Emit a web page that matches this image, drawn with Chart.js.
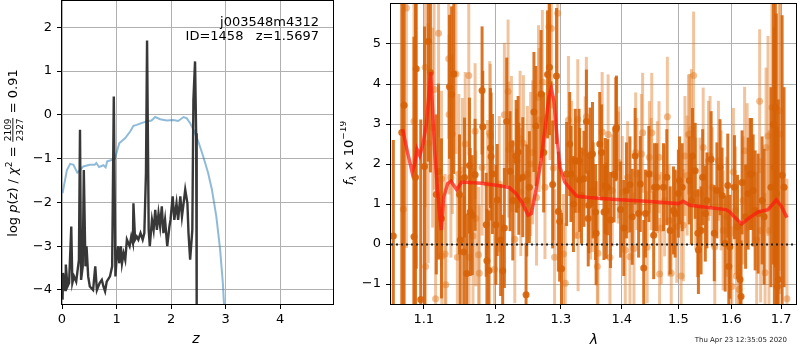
<!DOCTYPE html>
<html><head><meta charset="utf-8">
<script src="https://cdn.jsdelivr.net/npm/chart.js@4"></script>
<style>
html,body{margin:0;padding:0;background:#fff;}
#wrap{position:relative;width:800px;height:350px;overflow:hidden;background:#fff;}
canvas{position:absolute;top:0;}
</style></head><body>
<div id="wrap">
<canvas id="c1" width="340" height="350" style="left:0"></canvas>
<canvas id="c2" width="460" height="350" style="left:340px"></canvas>
</div>
<script>
// ---------- Left panel data: log p(z) ----------
const zTicks = [0, 1, 2, 3, 4];
const logpTicks = [-4, -3, -2, -1, 0, 1, 2];
const zBlue = [0.01,0.09,0.15,0.21,0.28,0.32,0.39,0.51,0.60,0.63,0.68,0.76,0.80,0.83,0.91,0.97,1.00,1.05,1.16,1.25,1.31,1.37,1.43,1.55,1.64,1.71,1.80,1.92,2.04,2.13,2.23,2.29,2.35,2.41,2.50,2.59,2.68,2.75,2.83,2.90,2.95,2.97,3.10];
const logpBlue = [-1.79,-1.26,-1.12,-1.14,-1.32,-1.27,-1.18,-1.14,-1.14,-1.10,-1.19,-1.15,-1.20,-1.06,-1.03,-1.00,-0.87,-0.65,-0.53,-0.38,-0.25,-0.23,-0.20,-0.15,-0.13,-0.05,-0.10,-0.13,-0.12,-0.14,-0.05,-0.08,-0.19,-0.34,-0.61,-0.95,-1.33,-1.71,-2.32,-3.08,-3.84,-4.30,-6.50];
const zDark = [0.01,0.02,0.06,0.07,0.10,0.13,0.17,0.19,0.22,0.26,0.28,0.31,0.33,0.35,0.38,0.40,0.43,0.45,0.48,0.51,0.57,0.61,0.64,0.69,0.73,0.76,0.79,0.82,0.88,0.92,0.95,0.98,1.00,1.03,1.05,1.08,1.10,1.13,1.16,1.19,1.24,1.27,1.30,1.31,1.34,1.37,1.40,1.44,1.48,1.51,1.54,1.56,1.59,1.61,1.65,1.68,1.71,1.74,1.77,1.80,1.83,1.86,1.89,1.93,1.97,1.99,2.03,2.06,2.10,2.13,2.17,2.20,2.23,2.26,2.30,2.32,2.35,2.39,2.41,2.44,2.46,2.47,2.50];
const logpDark = [-4.22,-3.61,-4.00,-3.42,-3.92,-3.84,-2.55,-3.84,-3.69,-3.81,-3.61,-3.31,-0.34,-3.77,-3.46,-1.26,-3.46,-3.00,-3.69,-3.92,-4.00,-3.46,-4.00,-3.84,-3.77,-3.92,-4.03,-3.81,-3.69,-3.46,0.42,-3.69,-3.31,-3.00,-3.39,-3.00,-3.39,-3.16,-3.31,-2.85,-3.00,-2.78,-2.93,-2.02,-2.85,-2.78,-2.85,-2.70,-2.85,-2.70,-1.33,1.70,-2.63,-3.00,-2.40,-2.63,-2.17,-2.63,-2.25,-2.55,-2.09,-2.70,-2.40,-3.00,-2.55,-2.40,-1.86,-2.40,-2.02,-2.40,-1.86,-2.32,-2.02,-1.71,-2.02,-2.70,-3.31,-2.63,0.34,1.22,-0.42,-4.30,-8.00];

// ---------- Right panel data: spectrum ----------
const lamTicks = [1.1, 1.2, 1.3, 1.4, 1.5, 1.6, 1.7];
const fluxTicks = [-1, 0, 1, 2, 3, 4, 5];
const zeroLevel = [0];
const lamDark = [1.060,1.071,1.074,1.087,1.089,1.090,1.096,1.101,1.106,1.109,1.117,1.120,1.124,1.135,1.138,1.141,1.149,1.150,1.155,1.156,1.159,1.163,1.164,1.167,1.171,1.181,1.182,1.187,1.188,1.191,1.193,1.194,1.196,1.201,1.203,1.208,1.211,1.2135,1.217,1.222,1.226,1.231,1.232,1.234,1.235,1.241,1.246,1.247,1.251,1.258,1.261,1.269,1.273,1.279,1.282,1.287,1.293,1.296,1.298,1.301,1.309,1.314,1.316,1.320,1.323,1.329,1.330,1.333,1.337,1.341,1.344,1.345,1.347,1.351,1.352,1.356,1.357,1.363,1.366,1.370,1.372,1.374,1.376,1.381,1.387,1.390,1.391,1.398,1.4035,1.408,1.414,1.418,1.423,1.429,1.432,1.438,1.441,1.447,1.4555,1.457,1.461,1.473,1.479,1.485,1.491,1.494,1.500,1.502,1.507,1.520,1.524,1.526,1.531,1.536,1.537,1.542,1.545,1.550,1.553,1.561,1.567,1.572,1.578,1.582,1.588,1.593,1.595,1.597,1.606,1.612,1.617,1.619,1.621,1.628,1.633,1.637,1.640,1.643,1.647,1.653,1.661,1.665,1.679,1.684,1.686,1.688,1.690,1.692,1.694,1.702,1.706];
const fluxDark = [0.2,2.79,3.47,0.18,1.67,4.38,-1.39,1.94,5.06,4.29,1.24,1.81,0.64,3.93,3.74,4.25,1.24,0.1,-0.2,1.66,-0.74,1.96,0.8,0.72,1.73,3.84,2.93,0.48,-0.42,-0.66,2.4,2.19,1.75,0.48,1.1,0.1,-0.67,0.4,3.06,1.82,1.09,2.2,2.08,2.3,1.63,1.67,-1.27,1.09,1.42,3.3,2.95,3.75,2.29,4.24,4.42,1.49,4.2,0.81,0.56,-0.62,1.75,2.5,1.75,1.0,2.08,2.08,1.6,1.21,1.63,3.06,0.64,0.97,2.21,2.25,1.34,0.8,0.27,2.5,2.29,0.8,1.45,0.83,1.42,0.6,1.74,2.87,2.91,0.86,0.4,1.34,1.49,0.68,2.2,0.76,1.5,-0.6,0.76,1.75,0.22,1.42,1.42,1.42,1.67,0.34,0.84,0.76,1.26,1.59,1.42,1.59,1.09,2.2,1.83,0.27,-0.15,0.34,1.67,0.76,1.09,2.12,0.27,1.34,1.92,1.21,0.01,1.46,-0.56,-0.07,1.42,0.43,-0.89,-1.31,1.54,0.68,1.26,1.75,1.75,1.34,0.84,0.76,1.09,0.68,1.42,2.99,1.92,3.41,1.26,-1.06,-0.89,1.72,1.42];
const errDark = [2.4,6,6,5,5,5,4.5,3.5,3,2.5,2,2.2,2,1.8,2.2,2.5,1.5,1.6,1.4,1.5,1.5,1.7,1.6,1.5,1.4,1.6,1.4,1.3,1.3,1.5,1.5,1.6,1.5,1.5,1.4,1.4,1.4,1.5,1.6,1.5,1.5,1.4,1.3,1.4,1.4,1.5,1.3,1.4,1.4,1.5,1.5,1.6,1.5,1.6,1.7,1.6,1.7,1.5,1.5,1.4,1.3,1.3,1.2,1.2,1.3,1.3,1.3,1.2,1.2,1.3,1.2,1.2,1.2,1.3,1.2,1.2,1.3,1.3,1.2,1.2,1.2,1.2,1.2,1.2,1.2,1.3,1.3,1.2,1.2,1.2,1.2,1.2,1.2,1.1,1.2,1.2,1.1,1.2,1.1,1.1,1.1,1.1,1.2,1.1,1.1,1.1,1.1,1.1,1.1,1.1,1.1,1.2,1.2,1.1,1.1,1.1,1.2,1.2,1.2,1.2,1.2,1.2,1.2,1.2,1.2,1.3,1.3,1.3,1.3,1.3,1.4,1.4,1.3,1.3,1.4,1.4,1.4,1.4,1.5,1.5,1.6,1.7,2.5,3.5,3.5,4,4.5,4,4.5,4,2.5];
const lamLight = [1.073,1.077,1.087,1.102,1.1025,1.106,1.112,1.114,1.116,1.120,1.124,1.1245,1.129,1.130,1.134,1.1345,1.137,1.139,1.144,1.146,1.148,1.153,1.157,1.162,1.1625,1.168,1.171,1.172,1.176,1.177,1.181,1.189,1.192,1.193,1.199,1.206,1.2135,1.219,1.220,1.224,1.229,1.237,1.238,1.242,1.248,1.253,1.256,1.262,1.265,1.266,1.271,1.275,1.281,1.283,1.285,1.288,1.290,1.295,1.304,1.307,1.312,1.317,1.324,1.327,1.3275,1.339,1.341,1.348,1.351,1.359,1.360,1.367,1.377,1.380,1.384,1.394,1.395,1.401,1.406,1.410,1.414,1.421,1.424,1.426,1.434,1.436,1.444,1.448,1.451,1.452,1.462,1.465,1.466,1.469,1.475,1.480,1.483,1.487,1.497,1.505,1.509,1.512,1.516,1.5185,1.521,1.524,1.528,1.532,1.540,1.546,1.556,1.559,1.563,1.568,1.575,1.580,1.584,1.591,1.601,1.604,1.608,1.610,1.615,1.623,1.626,1.631,1.650,1.656,1.658,1.667,1.669,1.673,1.675,1.681,1.696,1.698,1.712];
const fluxLight = [0.87,5.9,3.07,4.42,-0.56,2.52,2.91,3.86,-1.37,5.27,1.63,-0.3,-0.25,-1.02,4.63,3.24,1.66,2.75,4.25,-0.33,1.75,1.85,2.5,4.21,-0.33,0.2,2.82,0.64,-0.27,-0.73,1.91,1.5,2.77,2.7,-0.64,1.5,3.23,3.81,2.36,2.5,0.12,2.63,1.3,2.52,1.75,2.0,2.29,1.16,3.67,3.1,4.05,1.42,5.43,4.0,5.39,1.9,-0.33,5.77,-0.25,-0.98,3.1,2.08,1.63,3.12,0.22,2.29,3.18,1.01,1.2,-0.56,-0.23,2.8,2.74,-0.34,1.34,1.91,2.04,1.3,-0.15,1.67,-0.32,-0.11,2.29,1.75,2.25,2.78,-0.08,2.17,1.75,2.78,1.67,2.17,-0.75,0.4,1.09,3.18,0.59,-0.73,0.43,-0.8,0.47,2.2,1.71,2.74,2.75,2.87,4.21,1.26,1.26,2.41,2.08,2.2,1.42,-0.07,2.08,1.34,0.34,0.68,-1.06,1.8,0.84,-0.8,-1.14,1.09,2.33,1.92,0.1,3.57,0.34,-0.72,2.41,2.7,0.34,3.41,3.33,2.75,-1.37];
const errLight = [6,6,5,3.5,3,3,2.5,2.5,2.5,2.6,2.2,2,2,2,2,2,2,2,2,2,2,1.8,1.8,2,1.8,1.7,1.7,1.7,1.7,1.7,1.7,1.6,1.8,1.8,1.7,1.7,1.8,1.8,1.7,1.7,1.6,1.7,1.6,1.7,1.7,1.8,1.8,1.7,1.8,1.8,1.8,1.8,2,1.9,2,1.8,1.7,2,1.5,1.5,1.6,1.5,1.5,1.5,1.4,1.4,1.5,1.4,1.4,1.4,1.4,1.5,1.5,1.4,1.4,1.4,1.4,1.4,1.4,1.4,1.4,1.4,1.5,1.4,1.5,1.5,1.4,1.4,1.4,1.5,1.4,1.4,1.4,1.4,1.4,1.5,1.4,1.4,1.4,1.4,1.4,1.5,1.5,1.5,1.5,1.5,1.6,1.4,1.4,1.5,1.5,1.5,1.5,1.5,1.5,1.5,1.5,1.5,1.5,1.6,1.6,1.5,1.5,1.6,1.6,1.6,1.7,1.8,1.8,2,2,2.5,2.5,3,4,4,3];
const lamModel = [1.072,1.079,1.0845,1.088,1.091,1.0947,1.099,1.1036,1.1094,1.1147,1.119,1.1237,1.127,1.1326,1.137,1.145,1.152,1.180,1.204,1.221,1.231,1.241,1.249,1.254,1.261,1.269,1.276,1.281,1.285,1.289,1.294,1.2985,1.306,1.315,1.325,1.345,1.384,1.442,1.500,1.509,1.521,1.589,1.597,1.607,1.620,1.636,1.653,1.673,1.690,1.700,1.712];
const fluxModel = [2.87,2.25,1.80,2.00,2.37,2.21,2.50,3.00,4.30,2.33,1.26,0.35,1.17,1.51,1.57,1.36,1.55,1.52,1.46,1.41,1.26,1.01,0.72,0.76,1.34,2.08,3.00,3.66,3.89,3.57,2.66,1.92,1.55,1.38,1.20,1.16,1.12,1.07,1.01,1.07,0.97,0.86,0.80,0.66,0.50,0.66,0.80,0.86,1.10,0.95,0.66];

// ---------- helpers ----------
const FONT = '"DejaVu Sans", sans-serif';
Chart.defaults.font.family = FONT;
Chart.defaults.font.size = 13;
Chart.defaults.color = '#000';
const fixTicks = vals => (scale => { scale.ticks = vals.map(v => ({value: v})); });
const minus = v => String(v).replace('-', '\u2212');
const pts = (xs, ys) => xs.map((x, i) => ({x: x, y: ys[i]}));
const fitX = s => { s.height = 46; s.paddingLeft = 0; s.paddingRight = 0; s.paddingTop = 0; s.paddingBottom = 0; };
const fitY = w => (s => { s.width = w; s.paddingTop = 0; s.paddingBottom = 0; s.paddingLeft = 0; s.paddingRight = 0; });

const frame = {id: 'frame', afterDraw(c) {
  const a = c.chartArea, ctx = c.ctx;
  ctx.save(); ctx.strokeStyle = '#000'; ctx.lineWidth = 1;
  ctx.strokeRect(Math.round(a.left) - 0.5, Math.round(a.top) - 0.5, Math.round(a.right - a.left) + 1, Math.round(a.bottom - a.top) + 1);
  ctx.restore();
}};

function drawRich(ctx, parts, cx, cy) {
  ctx.save();
  ctx.translate(cx, cy); ctx.rotate(-Math.PI / 2);
  let total = 0;
  parts.forEach(p => {
    ctx.font = p.f;
    if (p.frac) { p.w = Math.max(ctx.measureText(p.frac[0]).width, ctx.measureText(p.frac[1]).width) + 2; }
    else p.w = ctx.measureText(p.t).width;
    total += p.w;
  });
  let x = -total / 2;
  ctx.fillStyle = '#000'; ctx.textBaseline = 'alphabetic'; ctx.textAlign = 'left';
  parts.forEach(p => {
    ctx.font = p.f;
    if (p.frac) {
      ctx.textAlign = 'center';
      ctx.fillText(p.frac[0], x + p.w / 2, -6.5);
      ctx.fillText(p.frac[1], x + p.w / 2, 5.5);
      ctx.fillRect(x + 0.5, -4.6, p.w - 1, 0.9);
      ctx.textAlign = 'left';
    } else {
      ctx.fillText(p.t, x, p.dy || 0);
    }
    x += p.w;
  });
  ctx.restore();
}

const N = '13px ' + FONT, I = 'italic 13px ' + FONT, S = '9px ' + FONT, SI = 'italic 9px ' + FONT;

const leftText = {id: 'leftText', afterDraw(c) {
  const ctx = c.ctx;
  ctx.save();
  ctx.fillStyle = '#000'; ctx.font = N; ctx.textAlign = 'right'; ctx.textBaseline = 'alphabetic';
  ctx.fillText('j003548m4312', 319, 26);
  ctx.fillText('ID=1458   z=1.5697', 319, 40);
  ctx.font = 'italic 14px ' + FONT; ctx.textAlign = 'center';
  ctx.fillText('z', 196, 343);
  ctx.restore();
  drawRich(ctx, [
    {t: 'log ', f: N}, {t: 'p', f: I}, {t: '(', f: N}, {t: 'z', f: I}, {t: ') / ', f: N},
    {t: '\u03c7', f: I}, {t: '2', f: S, dy: -5}, {t: ' = ', f: N},
    {frac: ['2109', '2327'], f: S}, {t: ' = 0.91', f: N}
  ], 17, 153);
}};

const rightText = {id: 'rightText', afterDraw(c) {
  const ctx = c.ctx;
  ctx.save();
  ctx.fillStyle = '#000'; ctx.font = 'italic 14px ' + FONT; ctx.textAlign = 'center';
  ctx.fillText('\u03bb', 254, 344);
  ctx.font = '7px ' + FONT; ctx.textAlign = 'right'; ctx.fillStyle = '#222';
  ctx.fillText('Thu Apr 23 12:35:05 2020', 447, 342);
  const a = c.chartArea, y = Math.round(c.scales.y.getPixelForValue(zeroLevel[0])) + 0.5;
  ctx.strokeStyle = '#222'; ctx.lineWidth = 2; ctx.setLineDash([2, 3]);
  ctx.beginPath(); ctx.moveTo(a.left, y); ctx.lineTo(a.right, y); ctx.stroke();
  ctx.restore();
  drawRich(ctx, [
    {t: 'f', f: I}, {t: '\u03bb', f: SI, dy: 3}, {t: ' \u00d7 10', f: N}, {t: '\u221219', f: S, dy: -7}
  ], 13, 153);
}};

const errBars = {id: 'errBars', beforeDatasetDraw(c, args) {
  const ds = c.data.datasets[args.index];
  if (!ds.errors) return;
  const ctx = c.ctx, a = c.chartArea, xs = c.scales.x, ys = c.scales.y;
  ctx.save();
  ctx.beginPath(); ctx.rect(a.left, a.top, a.right - a.left, a.bottom - a.top); ctx.clip();
  ctx.strokeStyle = ds.errColor; ctx.lineWidth = ds.errWidth; ctx.lineCap = 'butt';
  ds.data.forEach((p, i) => {
    const x = xs.getPixelForValue(p.x);
    ctx.beginPath();
    ctx.moveTo(x, ys.getPixelForValue(p.y - ds.errors[i]));
    ctx.lineTo(x, ys.getPixelForValue(p.y + ds.errors[i]));
    ctx.stroke();
  });
  ctx.restore();
}};

const gridOpt = {color: '#b0b0b0', lineWidth: 1, tickLength: 5, tickColor: '#000'};

// ---------- Left chart ----------
new Chart(document.getElementById('c1'), {
  type: 'scatter',
  data: {datasets: [
    {data: pts(zDark, logpDark), showLine: true, borderColor: 'rgba(45,45,45,0.95)', borderWidth: 2.4, pointRadius: 0, clip: 0, order: 0},
    {data: pts(zBlue, logpBlue), showLine: true, borderColor: 'rgba(31,119,180,0.5)', borderWidth: 2, pointRadius: 0, clip: 0, order: 1}
  ]},
  options: {
    responsive: false, animation: false, devicePixelRatio: 1,
    layout: {padding: {left: 0, right: 7, top: 1, bottom: 0}},
    plugins: {legend: {display: false}, tooltip: {enabled: false}},
    scales: {
      x: {type: 'linear', min: 0, max: 4.97, afterBuildTicks: fixTicks(zTicks), afterFit: fitX,
          grid: gridOpt, border: {display: false},
          ticks: {padding: 3, autoSkip: false, maxRotation: 0, callback: v => minus(v)}},
      y: {type: 'linear', min: -4.32, max: 2.6, afterBuildTicks: fixTicks(logpTicks), afterFit: fitY(62),
          grid: gridOpt, border: {display: false},
          ticks: {padding: 5, autoSkip: false, callback: v => minus(v)}}
    }
  },
  plugins: [errBars, frame, leftText]
});

// ---------- Right chart ----------
new Chart(document.getElementById('c2'), {
  type: 'scatter',
  data: {datasets: [
    {data: pts(lamModel, fluxModel), showLine: true, borderColor: 'rgba(255,25,15,0.72)', borderWidth: 3.5, pointRadius: 0, clip: 0, order: 1},
    {data: pts(lamDark, fluxDark), errors: errDark, errColor: 'rgba(214,98,8,0.88)', errWidth: 3, pointRadius: 3.5, backgroundColor: 'rgba(214,98,8,0.9)', borderWidth: 0, clip: 0, order: 2},
    {data: pts(lamLight, fluxLight), errors: errLight, errColor: 'rgba(226,125,40,0.45)', errWidth: 3, pointRadius: 3.5, backgroundColor: 'rgba(226,125,40,0.5)', borderWidth: 0, clip: 0, order: 3}
  ]},
  options: {
    responsive: false, animation: false, devicePixelRatio: 1,
    layout: {padding: {left: 0, right: 2, top: 1, bottom: 0}},
    plugins: {legend: {display: false}, tooltip: {enabled: false}},
    scales: {
      x: {type: 'logarithmic', min: 1.057, max: 1.731, afterBuildTicks: fixTicks(lamTicks), afterFit: fitX,
          grid: gridOpt, border: {display: false},
          ticks: {padding: 3, autoSkip: false, maxRotation: 0, callback: v => Number(v).toFixed(1)}},
      y: {type: 'linear', min: -1.5, max: 6.0, afterBuildTicks: fixTicks(fluxTicks), afterFit: fitY(51),
          grid: gridOpt, border: {display: false},
          ticks: {padding: 5, autoSkip: false, callback: v => minus(v)}}
    }
  },
  plugins: [errBars, frame, rightText]
});
</script>
</body></html>
